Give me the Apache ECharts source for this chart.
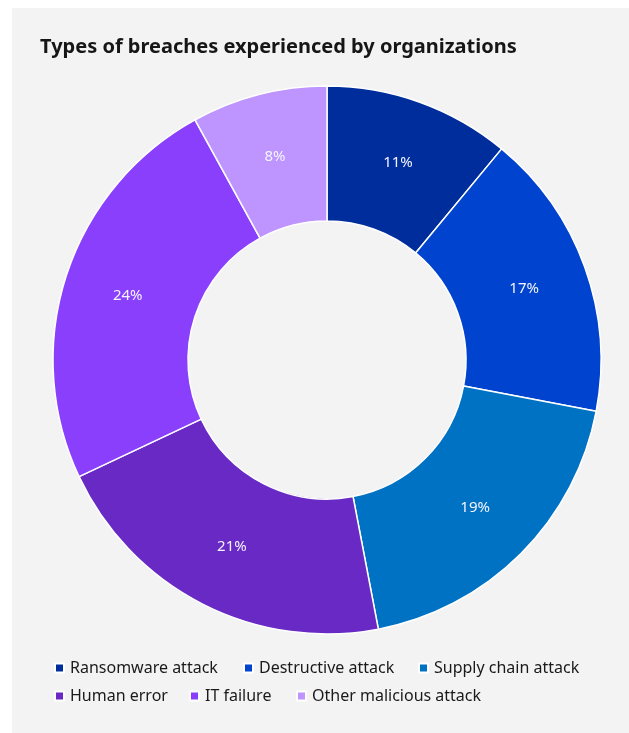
<!DOCTYPE html>
<html>
<head>
<meta charset="utf-8">
<script src="https://cdn.jsdelivr.net/npm/echarts@6/dist/echarts.min.js"></script>
<style>
html,body{margin:0;padding:0;background:#ffffff;}
#panel{position:absolute;left:12px;top:8px;width:617px;height:725px;background:#f3f3f3;}
#chart{position:absolute;left:0;top:0;width:629px;height:733px;}
</style>
</head>
<body>
<div id="panel"></div>
<div id="chart"></div>
<script>
const categories = ['Ransomware attack','Destructive attack','Supply chain attack','Human error','IT failure','Other malicious attack'];
const values = [11,17,19,21,24,8];
const colors = ['#002d9c','#0043ce','#0072c3','#6929c4','#8a3ffc','#be95ff'];
const legendPos = [[54,660],[243,660],[418,660],[54,688],[189,688],[296,688]];

const chart = echarts.init(document.getElementById('chart'), null, {renderer:'canvas'});
const legends = categories.map((c,i)=>({
  data:[c], left:legendPos[i][0], top:legendPos[i][1], orient:'horizontal',
  icon:'rect', itemWidth:9, itemHeight:9, itemGap:0,
  textStyle:{fontFamily:'Noto Sans', fontSize:16, color:'#1a1a1a', padding:[0,0,0,1]},
  padding:0, selectedMode:false
}));
chart.setOption({
  backgroundColor:'transparent',
  animation:false,
  title:{text:'Types of breaches experienced by organizations', left:35, top:32,
    textStyle:{fontFamily:'Noto Sans', fontWeight:'bold', fontSize:20, color:'#161616'}},
  legend:legends,
  series:[{
    type:'pie', center:[327,360], radius:[139,274], startAngle:90, clockwise:true,
    avoidLabelOverlap:false,
    itemStyle:{borderColor:'#ffffff', borderWidth:1.5},
    label:{position:'inside', formatter:'{c}%', color:'#f4f4ff', fontFamily:'Noto Sans', fontSize:15},
    labelLine:{show:false},
    emphasis:{disabled:true},
    data:categories.map((c,i)=>({name:c, value:values[i], itemStyle:{color:colors[i]}}))
  }]
});
</script>
</body>
</html>
